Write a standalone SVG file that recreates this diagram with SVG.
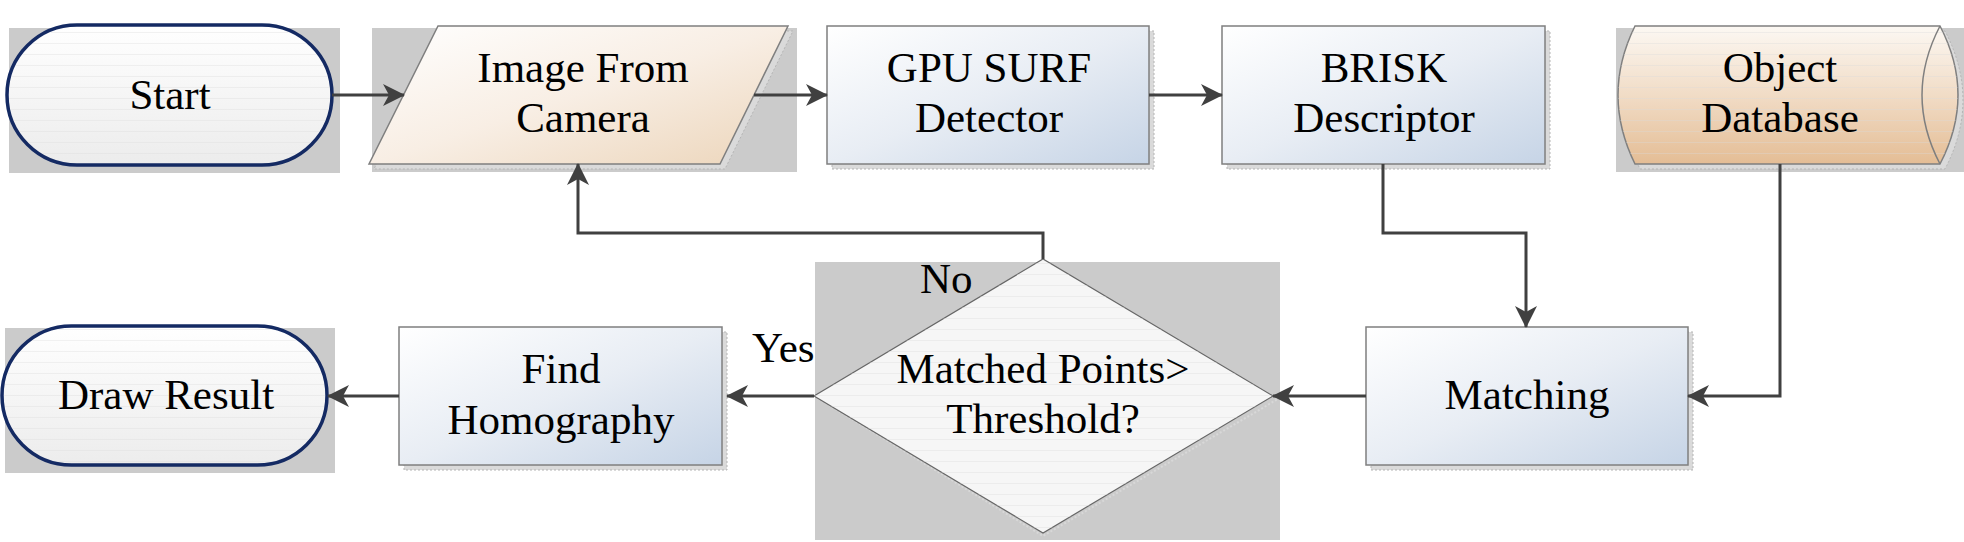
<svg xmlns="http://www.w3.org/2000/svg" width="1964" height="542" viewBox="0 0 1964 542">
<defs>
<style>
.bg{fill:#cbcbcb}
.sh{fill:#dadada;stroke:#b5b5b5;stroke-width:1;stroke-dasharray:2 2}
.box{fill:url(#gBlue);stroke:#7f7f7f;stroke-width:1.5}
.pill{fill:url(#gPill);stroke:#142a63;stroke-width:3.5}
.stripe{fill:url(#pStripe)}
.c{fill:none;stroke:#404040;stroke-width:3;marker-end:url(#arr)}
</style>
<linearGradient id="gBlue" x1="0" y1="0" x2="1" y2="1">
<stop offset="0" stop-color="#ffffff"/>
<stop offset="0.5" stop-color="#e8edf4"/>
<stop offset="1" stop-color="#c6d4e6"/>
</linearGradient>
<linearGradient id="gPeach" x1="0" y1="0" x2="1" y2="1">
<stop offset="0" stop-color="#ffffff"/>
<stop offset="0.5" stop-color="#f8eee4"/>
<stop offset="1" stop-color="#ecd5ba"/>
</linearGradient>
<linearGradient id="gDb" x1="0" y1="0" x2="0" y2="1">
<stop offset="0" stop-color="#fcf8f3"/>
<stop offset="0.5" stop-color="#f1dcc6"/>
<stop offset="1" stop-color="#e4bd95"/>
</linearGradient>
<linearGradient id="gPill" x1="0" y1="0" x2="0" y2="1">
<stop offset="0" stop-color="#ffffff"/>
<stop offset="1" stop-color="#ececec"/>
</linearGradient>
<pattern id="pStripe" width="20" height="11" patternUnits="userSpaceOnUse">
<rect x="0" y="10" width="20" height="1" fill="#d8d8d8" fill-opacity="0.35"/>
</pattern>
<marker id="arr" viewBox="0 0 22 22" markerWidth="22" markerHeight="22" refX="21" refY="11" orient="auto" markerUnits="userSpaceOnUse">
<path d="M0,0 L22,11 L0,22 L6,11 Z" fill="#404040"/>
</marker>
</defs>

<g id="start">
<rect class="bg" x="9" y="28" width="331" height="145"/>
<rect class="pill" x="7" y="25" width="325" height="140" rx="70"/>
<rect class="stripe" x="9" y="27" width="321" height="136" rx="68"/>
<text x="170" y="109" style="font-family:'Liberation Serif'" font-size="43" text-anchor="middle">Start</text>
</g>

<g id="image">
<rect class="bg" x="372" y="28" width="425" height="144"/>
<path class="sh" d="M443,31 H793 L725,169 H374 Z"/>
<path d="M438,26 H788 L720,164 H369 Z" fill="url(#gPeach)" stroke="#7f7f7f" stroke-width="1.5"/>
<text x="583" y="82" style="font-family:'Liberation Serif'" font-size="43" text-anchor="middle">Image From</text>
<text x="583" y="132" style="font-family:'Liberation Serif'" font-size="43" text-anchor="middle">Camera</text>
</g>

<g id="gpu">
<rect class="sh" x="832" y="31" width="322" height="138"/>
<rect class="box" x="827" y="26" width="322" height="138"/>
<text x="989" y="82" style="font-family:'Liberation Serif'" font-size="43" text-anchor="middle">GPU SURF</text>
<text x="989" y="132" style="font-family:'Liberation Serif'" font-size="43" text-anchor="middle">Detector</text>
</g>

<g id="brisk">
<rect class="sh" x="1227" y="31" width="323" height="138"/>
<rect class="box" x="1222" y="26" width="323" height="138"/>
<text x="1384" y="82" style="font-family:'Liberation Serif'" font-size="43" text-anchor="middle">BRISK</text>
<text x="1384" y="132" style="font-family:'Liberation Serif'" font-size="43" text-anchor="middle">Descriptor</text>
</g>

<g id="db">
<rect class="bg" x="1616" y="28" width="348" height="144"/>
<path class="sh" d="M1640,31 H1945 Q1981,100 1945,169 H1640 Q1606,100 1640,31 Z"/>
<path d="M1635,26 H1940 Q1976,95 1940,164 H1635 Q1601,95 1635,26 Z" fill="url(#gDb)" stroke="#7f7f7f" stroke-width="1.5"/>
<path d="M1635,26 H1940 Q1976,95 1940,164 H1635 Q1601,95 1635,26 Z" class="stripe"/>
<path d="M1940,26 Q1904,95 1940,164" fill="none" stroke="#7f7f7f" stroke-width="1.5"/>
<text x="1780" y="82" style="font-family:'Liberation Serif'" font-size="43" text-anchor="middle">Object</text>
<text x="1780" y="132" style="font-family:'Liberation Serif'" font-size="43" text-anchor="middle">Database</text>
</g>

<g id="matching">
<rect class="sh" x="1371" y="332" width="322" height="138"/>
<rect class="box" x="1366" y="327" width="322" height="138"/>
<text x="1527" y="409" style="font-family:'Liberation Serif'" font-size="43" text-anchor="middle">Matching</text>
</g>

<g id="decision">
<rect class="bg" x="815" y="262" width="465" height="278"/>
<path d="M819,399 L1043,262 L1278,399 L1043,536 Z" fill="none" stroke="#d8d8d8" stroke-width="2" stroke-dasharray="2 2"/>
<path d="M814,396 L1043,259 L1273,396 L1043,533 Z" fill="#f6f6f6" stroke="#666666" stroke-width="1.2"/>
<path d="M814,396 L1043,259 L1273,396 L1043,533 Z" class="stripe"/>
<text x="1043" y="383" style="font-family:'Liberation Serif'" font-size="43" text-anchor="middle">Matched Points&gt;</text>
<text x="1043" y="433" style="font-family:'Liberation Serif'" font-size="43" text-anchor="middle">Threshold?</text>
</g>

<g id="find">
<rect class="sh" x="404" y="332" width="323" height="138"/>
<rect class="box" x="399" y="327" width="323" height="138"/>
<text x="561" y="383" style="font-family:'Liberation Serif'" font-size="43" text-anchor="middle">Find</text>
<text x="561" y="434" style="font-family:'Liberation Serif'" font-size="43" text-anchor="middle">Homography</text>
</g>

<g id="draw">
<rect class="bg" x="5" y="328" width="330" height="145"/>
<rect class="pill" x="2" y="326" width="325" height="139" rx="69.5"/>
<rect class="stripe" x="4" y="328" width="321" height="135" rx="67.5"/>
<text x="166" y="409" style="font-family:'Liberation Serif'" font-size="43" text-anchor="middle">Draw Result</text>
</g>

<g id="connectors">
<path class="c" d="M332,95 H404"/>
<path class="c" d="M754,95 H827"/>
<path class="c" d="M1149,95 H1222"/>
<path class="c" d="M1383,164 V233 H1526 V327"/>
<path class="c" d="M1780,164 V396 H1688"/>
<path class="c" d="M1366,396 H1273"/>
<path class="c" d="M814,396 H727"/>
<path class="c" d="M399,396 H328"/>
<path class="c" d="M1043,259 V233 H578 V164"/>
<text x="752" y="362" style="font-family:'Liberation Serif'" font-size="43">Yes</text>
<text x="920" y="293" style="font-family:'Liberation Serif'" font-size="43">No</text>
</g>
</svg>
